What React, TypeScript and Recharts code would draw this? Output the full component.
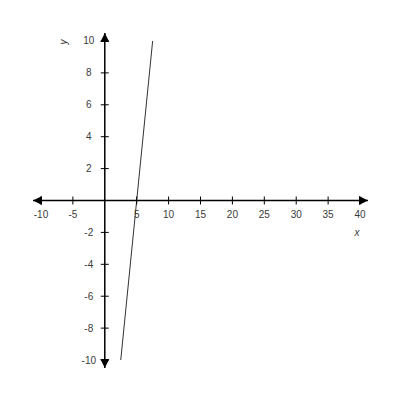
// Line graph of y = 4x - 20 on cross-shaped axes (origin in the middle, arrows at both ends).
import { LineChart, Line, XAxis, YAxis, ReferenceLine, ReferenceDot } from 'recharts';

// axes run slightly past the last labelled tick so the arrowheads have room
const X_MIN = -11.25;
const X_MAX = 41.25;
const Y_MIN = -10.5;
const Y_MAX = 10.5;

const X_TICKS = [-10, -5, 5, 10, 15, 20, 25, 30, 35, 40];
const Y_TICKS = [-10, -8, -6, -4, -2, 2, 4, 6, 8, 10];

const LINE_X = [2.5, 7.5];
const LINE_Y = [-10, 10];

const data = LINE_X.map((x, i) => ({ x, y: LINE_Y[i] }));

const FONT = '"Liberation Sans", Arial, sans-serif';
const TEXT = '#3a3a3a';
const AXIS = '#000';

type DotProps = { cx?: number; cy?: number };

const xTick = (v: number) => (p: DotProps) => {
  const cx = p.cx ?? 0;
  const cy = p.cy ?? 0;
  return (
    <g>
      <line x1={cx} x2={cx} y1={cy - 4} y2={cy + 4} stroke={AXIS} strokeWidth={1} />
      <text x={cx} y={cy + 17} textAnchor="middle" fontFamily={FONT} fontSize={10} fill={TEXT}>
        {v}
      </text>
    </g>
  );
};

const yTick = (v: number) => (p: DotProps) => {
  const cx = p.cx ?? 0;
  const cy = p.cy ?? 0;
  return (
    <g>
      <line x1={cx - 4} x2={cx + 4} y1={cy} y2={cy} stroke={AXIS} strokeWidth={1} />
      <text x={cx - 16} y={cy + 3.5} textAnchor="middle" fontFamily={FONT} fontSize={10} fill={TEXT}>
        {v}
      </text>
    </g>
  );
};

// arrowhead whose tip sits on the dot, pointing in direction (dx, dy)
const arrow = (dx: number, dy: number) => (p: DotProps) => {
  const cx = p.cx ?? 0;
  const cy = p.cy ?? 0;
  const L = 9;
  const W = 4.5;
  const bx = cx - dx * L;
  const by = cy - dy * L;
  const pts = [
    [cx, cy],
    [bx - dy * W, by + dx * W],
    [bx + dy * W, by - dx * W],
  ]
    .map((q) => q.join(','))
    .join(' ');
  return <polygon points={pts} fill={AXIS} />;
};

const yLabel = (p: DotProps) => {
  const x = (p.cx ?? 0) - 38;
  const y = (p.cy ?? 0) + 1;
  return (
    <text
      x={x}
      y={y}
      transform={`rotate(-90 ${x} ${y})`}
      textAnchor="middle"
      fontFamily={FONT}
      fontSize={10}
      fontStyle="italic"
      fill={TEXT}
    >
      y
    </text>
  );
};

const xLabel = (p: DotProps) => (
  <text
    x={(p.cx ?? 0) - 3}
    y={(p.cy ?? 0) + 35}
    textAnchor="middle"
    fontFamily={FONT}
    fontSize={10}
    fontStyle="italic"
    fill={TEXT}
  >
    x
  </text>
);

export default function App() {
  return (
    <LineChart width={380} height={380} data={data} margin={{ top: 25, right: 20, bottom: 20, left: 25 }}>
      <XAxis type="number" dataKey="x" domain={[X_MIN, X_MAX]} allowDataOverflow hide />
      <YAxis type="number" dataKey="y" domain={[Y_MIN, Y_MAX]} allowDataOverflow hide />
      <ReferenceLine y={0} stroke={AXIS} strokeWidth={1.5} ifOverflow="visible" />
      <ReferenceLine x={0} stroke={AXIS} strokeWidth={1.5} ifOverflow="visible" />
      {X_TICKS.map((t) => (
        <ReferenceDot key={`x${t}`} x={t} y={0} r={0} ifOverflow="visible" shape={xTick(t)} />
      ))}
      {Y_TICKS.map((t) => (
        <ReferenceDot key={`y${t}`} x={0} y={t} r={0} ifOverflow="visible" shape={yTick(t)} />
      ))}
      <ReferenceDot x={X_MIN} y={0} r={0} ifOverflow="visible" shape={arrow(-1, 0)} />
      <ReferenceDot x={X_MAX} y={0} r={0} ifOverflow="visible" shape={arrow(1, 0)} />
      <ReferenceDot x={0} y={Y_MAX} r={0} ifOverflow="visible" shape={arrow(0, -1)} />
      <ReferenceDot x={0} y={Y_MIN} r={0} ifOverflow="visible" shape={arrow(0, 1)} />
      <ReferenceDot x={0} y={10} r={0} ifOverflow="visible" shape={yLabel} />
      <ReferenceDot x={40} y={0} r={0} ifOverflow="visible" shape={xLabel} />
      <Line
        dataKey="y"
        stroke="#333"
        strokeWidth={1}
        dot={false}
        activeDot={false}
        isAnimationActive={false}
      />
    </LineChart>
  );
}
